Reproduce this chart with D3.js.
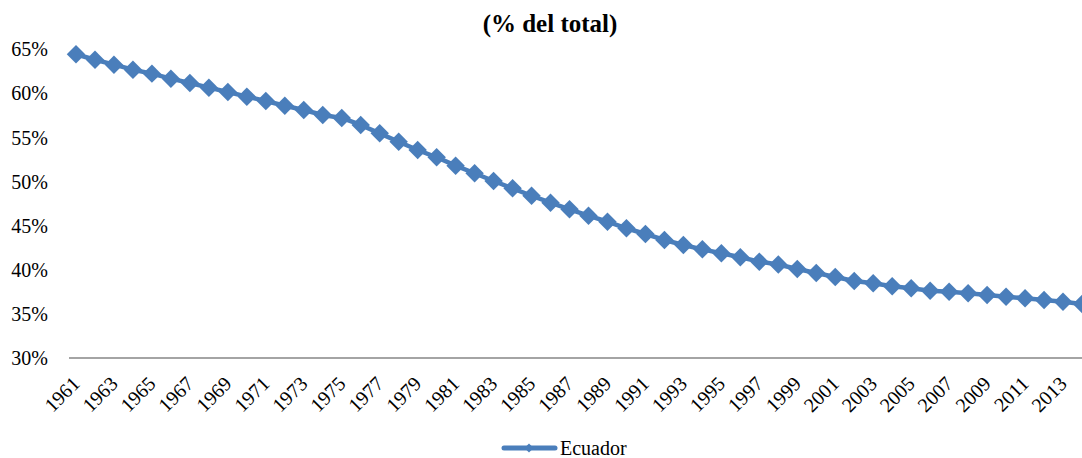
<!DOCTYPE html>
<html>
<head>
    <meta charset="utf-8">
    <title>Población rural (% del total)</title>
    <script src="https://d3js.org/d3.v7.min.js"></script>
    <style>
        body {
            margin: 0;
            background: #fff;
        }
        svg text {
            font-family: "Liberation Serif", "Times New Roman", Times, serif;
            fill: #000;
        }
        .title {
            font-size: 25px;
            font-weight: bold;
        }
        .tick-label {
            font-size: 20px;
        }
        .series-line {
            fill: none;
            stroke: #4A7EBB;
            stroke-width: 4.5px;
            stroke-linejoin: round;
        }
        .marker {
            fill: #4A7EBB;
        }
    </style>
</head>
<body>
    <div id="chart"></div>
    <script>
        // years shown (the picture is cut at the right edge after 2014)
        const years = d3.range(1961, 2015);

        // rural population, % of total
        const ecuador = [
            64.46, 63.84, 63.28, 62.71, 62.26, 61.69, 61.20, 60.67, 60.18, 59.65,
            59.16, 58.62, 58.14, 57.57, 57.23, 56.44, 55.49, 54.54, 53.60, 52.77,
            51.82, 50.96, 50.08, 49.25, 48.41, 47.62, 46.87, 46.14, 45.46, 44.72,
            44.07, 43.39, 42.82, 42.33, 41.88, 41.43, 40.93, 40.61, 40.10, 39.64,
            39.19, 38.74, 38.48, 38.13, 37.91, 37.64, 37.52, 37.34, 37.15, 36.95,
            36.77, 36.58, 36.39, 36.13
        ];

        const yTicks = [30, 35, 40, 45, 50, 55, 60, 65];
        const xTickYears = years.filter((y, i) => i % 2 === 0);

        const width = 1082;
        const height = 458;
        const serif = "'Liberation Serif', 'Times New Roman', serif";

        const svg = d3.select("#chart")
            .append("svg")
            .attr("width", width)
            .attr("height", height)
            .attr("font-family", serif);

        const x = d3.scalePoint()
            .domain(years)
            .range([76, 1082]);

        const y = d3.scaleLinear()
            .domain([30, 65])
            .range([358, 49.5]);

        // title
        svg.append("text")
            .attr("class", "title")
            .attr("x", 550)
            .attr("y", 32)
            .attr("text-anchor", "middle")
            .text("(% del total)");

        // y axis labels, no axis line
        const yAxis = svg.append("g")
            .attr("transform", "translate(48,0)")
            .call(d3.axisLeft(y)
                .tickValues(yTicks)
                .tickSize(0)
                .tickPadding(0)
                .tickFormat(d => d + "%"));
        yAxis.attr("font-family", serif).attr("font-size", null);
        yAxis.select(".domain").remove();
        yAxis.selectAll("text")
            .attr("class", "tick-label");

        // x axis baseline
        svg.append("line")
            .attr("x1", 69)
            .attr("x2", width)
            .attr("y1", y(30))
            .attr("y2", y(30))
            .attr("stroke", "#868686")
            .attr("stroke-width", 1.5);

        // x labels, rotated
        svg.append("g")
            .selectAll("text")
            .data(xTickYears)
            .enter()
            .append("text")
            .attr("class", "tick-label")
            .attr("text-anchor", "end")
            .attr("transform", d => `translate(${x(d) + 5},385) rotate(-45)`)
            .text(d => d);

        // series
        const line = d3.line()
            .x((d, i) => x(years[i]))
            .y(d => y(d));

        svg.append("path")
            .datum(ecuador)
            .attr("class", "series-line")
            .attr("d", line);

        const diamond = d3.symbol().type(d3.symbolSquare).size(170);

        svg.append("g")
            .selectAll("path")
            .data(ecuador)
            .enter()
            .append("path")
            .attr("class", "marker")
            .attr("transform", (d, i) => `translate(${x(years[i])},${y(d)}) rotate(45)`)
            .attr("d", diamond);

        // legend
        const legend = svg.append("g");
        legend.append("line")
            .attr("x1", 504)
            .attr("x2", 555)
            .attr("y1", 448)
            .attr("y2", 448)
            .attr("stroke", "#4A7EBB")
            .attr("stroke-width", 5)
            .attr("stroke-linecap", "round");
        legend.append("path")
            .attr("class", "marker")
            .attr("transform", "translate(529,448) rotate(45)")
            .attr("d", d3.symbol().type(d3.symbolSquare).size(40));
        legend.append("text")
            .attr("class", "tick-label")
            .attr("x", 560)
            .attr("y", 455)
            .text("Ecuador");
    </script>
</body>
</html>
